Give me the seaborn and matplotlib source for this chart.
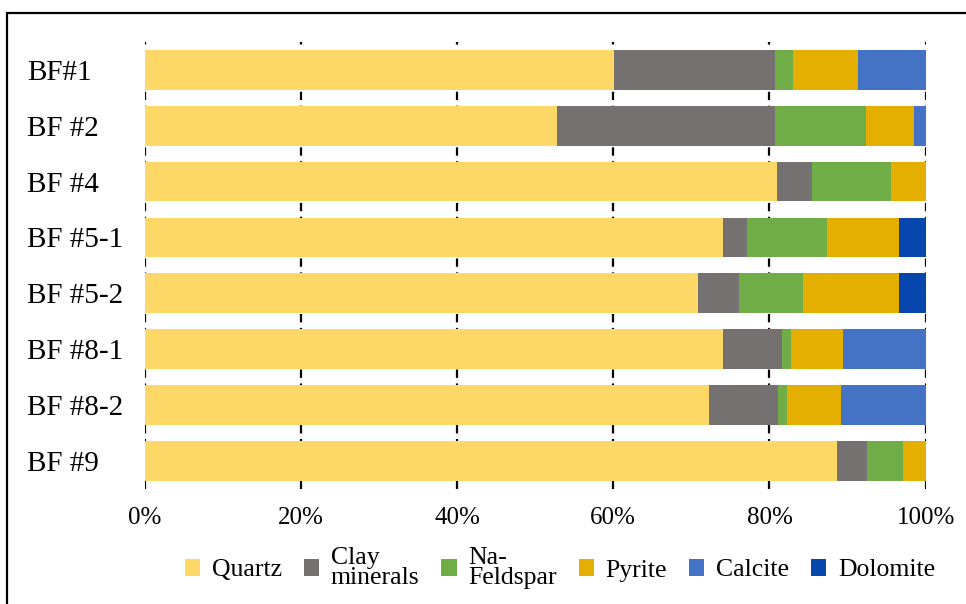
import numpy as np
import pandas as pd
import matplotlib
matplotlib.use("Agg")
import matplotlib.pyplot as plt
import seaborn as sns
from matplotlib.patches import Rectangle, Patch

samples = ["BF#1", "BF #2", "BF #4", "BF #5-1", "BF #5-2", "BF #8-1", "BF #8-2", "BF #9"]
minerals = ["Quartz", "Clay\nminerals", "Na-\nFeldspar", "Pyrite", "Calcite", "Dolomite"]

quartz = [60.1, 52.8, 81.0, 74.0, 70.8, 74.1, 72.2, 88.6]
clay = [20.6, 27.9, 4.4, 3.1, 5.3, 7.5, 8.9, 3.9]
feldspar = [2.3, 11.7, 10.2, 10.2, 8.2, 1.2, 1.2, 4.6]
pyrite = [8.3, 6.1, 4.4, 9.3, 12.3, 6.6, 6.9, 2.9]
calcite = [8.7, 1.5, 0.0, 0.0, 0.0, 10.6, 10.8, 0.0]
dolomite = [0.0, 0.0, 0.0, 3.4, 3.4, 0.0, 0.0, 0.0]

colors = ["#FDD866", "#767171", "#70AD47", "#E4AF00", "#4472C4", "#0747AD"]

df = pd.DataFrame({"sample": samples})
series = [quartz, clay, feldspar, pyrite, calcite, dolomite]
for name, vals in zip(minerals, series):
    df[name] = vals
# share of each sample (normalised to 100 %)
tot = df[minerals].sum(axis=1)
for name in minerals:
    df[name] = df[name] / tot * 100

plt.rcParams["font.family"] = ["Liberation Serif", "DejaVu Serif"]
plt.rcParams["lines.scale_dashes"] = False

fig = plt.figure(figsize=(9.66, 6.04), dpi=100)
ax = fig.add_axes([0.1496, 0.1907, 0.8087, 0.7398])

# stacked bars: draw cumulative sums from the back
cum = df[minerals].cumsum(axis=1)
for name, col in reversed(list(zip(minerals, colors))):
    sns.barplot(x=cum[name], y=df["sample"], orient="h", color=col,
                width=0.71, ax=ax, zorder=2, linewidth=0, saturation=1)

ax.set_xlim(0, 100)
ax.set_ylim(7.5, -0.5)
ax.set_xticks(np.arange(0, 101, 20))
ax.set_xticklabels([f"{v}%" for v in range(0, 101, 20)])
ax.set_xlabel("")
ax.set_ylabel("")
for s in ax.spines.values():
    s.set_visible(False)
ax.grid(axis="x", color="black", linestyle=(0, (6, 4)), linewidth=1.6, zorder=0)
ax.set_axisbelow(True)
ax.tick_params(axis="both", length=0)
ax.tick_params(axis="x", pad=13, labelsize=18)
ax.tick_params(axis="y", pad=84.5, labelsize=21)
for lbl in ax.get_yticklabels():
    lbl.set_ha("left")

handles = [Patch(facecolor=c, edgecolor="none") for c in colors]
leg = fig.legend(handles, minerals, loc="center", bbox_to_anchor=(560 / 966, 1 - 568 / 604),
                 ncol=6, frameon=False, fontsize=18.5, handlelength=0.6, handleheight=0.6,
                 handletextpad=0.45, columnspacing=0.85, labelspacing=0.1)
for t in leg.get_texts():
    t.set_linespacing(0.85)

# outer frame
fig.patches.append(Rectangle((7 / 966, -0.2), 1.2, 1.2 - 13 / 604,
                             transform=fig.transFigure, fill=False,
                             edgecolor="black", linewidth=1.6))

fig.savefig("out.png", dpi=100)
